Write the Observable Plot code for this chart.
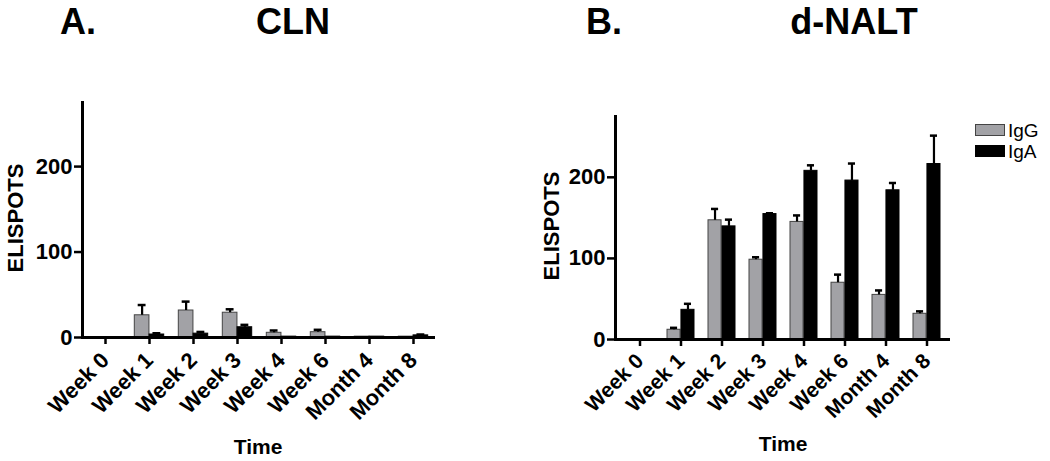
<!DOCTYPE html>
<html>
<head>
<meta charset="utf-8">
<script src="https://cdn.jsdelivr.net/npm/d3@7"></script>
<script src="https://cdn.jsdelivr.net/npm/@observablehq/plot@0.6"></script>
<style>
  html, body { margin: 0; padding: 0; background: #fff; }
  #wrap { position: relative; width: 1050px; height: 461px; font-family: "Liberation Sans", Arial, sans-serif; color: #000; overflow: hidden; }
  .panel { position: absolute; top: 0; }
  .t { position: absolute; font-weight: bold; white-space: nowrap; line-height: 1; }
  .big { font-size: 36px; }
  .lab { font-size: 21px; }
  .ylabf { font-size: 22px; }
  .ylab { transform: translate(-50%, -50%) rotate(-90deg); }
  .xlab { transform: translateX(-50%); }
  .ctr { transform: translateX(-50%); }
  .sw { position: absolute; width: 30px; height: 12px; box-sizing: border-box; }
  .lg { position: absolute; font-size: 19px; line-height: 1; }
</style>
</head>
<body>
<div id="wrap">
  <div class="t big" style="left:60px; top:4px;">A.</div>
  <div class="t big ctr" style="left:293px; top:4px;">CLN</div>
  <div class="t big" style="left:586px; top:4px;">B.</div>
  <div class="t big ctr" style="left:854px; top:4px;">d-NALT</div>

  <div class="t ylabf ylab" style="left:16px; top:218px;">ELISPOTS</div>
  <div class="t ylabf ylab" style="left:552px; top:226px;">ELISPOTS</div>
  <div class="t lab xlab" style="left:258px; top:436px;">Time</div>
  <div class="t lab xlab" style="left:783px; top:433px;">Time</div>

  <div class="sw" style="left:975px; top:124px; background:#a2a2a6; border:1.5px solid #444;"></div>
  <div class="lg" style="left:1008px; top:121px;">IgG</div>
  <div class="sw" style="left:975px; top:145px; background:#000; border:1.5px solid #000;"></div>
  <div class="lg" style="left:1008px; top:142px;">IgA</div>

  <div class="panel" id="pA" style="left:0px;"></div>
  <div class="panel" id="pB" style="left:525px;"></div>
</div>
<script>
// ---- Data ----
const times = ["Week 0", "Week 1", "Week 2", "Week 3", "Week 4", "Week 6", "Month 4", "Month 8"];
const series = ["IgG", "IgA"];
const yTicks = [0, 100, 200];

// Panel A: CLN
const clnIgG    = [0, 26, 31.6, 29, 5.5, 6.2, 1, 1];
const clnIgGErr = [0, 12, 10.4, 4, 2.7, 2.8, 0, 0];
const clnIgA    = [0, 3.5, 4.5, 12, 1, 1, 1, 2.5];
const clnIgAErr = [0, 1.5, 2, 2.8, 0, 0, 0, 1];

// Panel B: d-NALT
const naltIgG    = [0, 12, 147, 98.4, 145, 70, 55, 31.7];
const naltIgGErr = [0, 2.4, 14, 3, 8, 10, 5.5, 3];
const naltIgA    = [0, 36.6, 139.5, 154.7, 208, 196, 184, 216.4];
const naltIgAErr = [0, 7.4, 8.3, 1, 6.8, 21, 9, 35];

const colors = {IgG: "#a2a2a6", IgA: "#000000"};
const strokes = {IgG: "#444444", IgA: "#000000"};

function rows(igg, iggErr, iga, igaErr) {
  const out = [];
  times.forEach((t, i) => {
    out.push({time: t, series: "IgG", value: igg[i], err: iggErr[i]});
    out.push({time: t, series: "IgA", value: iga[i], err: igaErr[i]});
  });
  return out;
}

function panel(data, cfg) {
  const width = 525, height = 461;
  const bw = (width - cfg.ml - cfg.mr) / times.length;
  const half = bw / 2;
  const outer = cfg.outer;
  const barC = outer + (half - outer) / 2;
  const off = half - barC;
  const capHalf = 4;
  const marks = [];
  for (const s of series) {
    const d = data.filter(r => r.series === s);
    const left = s === "IgG";
    marks.push(Plot.barY(d, {
      x: "time", y: "value",
      fill: colors[s], stroke: strokes[s], strokeWidth: 1,
      insetLeft: left ? outer : half,
      insetRight: left ? half : outer
    }));
    const e = d.filter(r => r.err > 0);
    marks.push(Plot.ruleX(e, {
      x: "time", y1: "value", y2: r => r.value + r.err,
      dx: left ? -off : off, stroke: "#000", strokeWidth: 2.2
    }));
    const cc = left ? barC : bw - barC;
    marks.push(Plot.tickY(e, {
      x: "time", y: r => r.value + r.err,
      insetLeft: cc - capHalf, insetRight: bw - cc - capHalf,
      stroke: "#000", strokeWidth: 2.5
    }));
  }
  marks.push(Plot.ruleY([0], {stroke: "#000", strokeWidth: 3}));
  marks.push(Plot.frame({anchor: "left", stroke: "#000", strokeWidth: 3}));
  marks.push(Plot.axisY({ticks: yTicks, tickSize: 8, tickPadding: 2, strokeWidth: 2.5, fontSize: 22, label: null}));
  marks.push(Plot.axisX({tickSize: 7, tickPadding: cfg.tp, tickRotate: -45, strokeWidth: 2.5, fontSize: cfg.fs, label: null}));
  return Plot.plot({
    width, height,
    marginLeft: cfg.ml, marginRight: cfg.mr, marginTop: cfg.mt, marginBottom: cfg.mb,
    style: {fontFamily: "'Liberation Sans', Arial, sans-serif", fontWeight: "bold", fontSize: "21px", color: "#000", background: "transparent", overflow: "visible"},
    x: {type: "band", domain: times, padding: 0, axis: null},
    y: {domain: [0, 275], axis: null},
    marks
  });
}

document.getElementById("pA").appendChild(
  panel(rows(clnIgG, clnIgGErr, clnIgA, clnIgAErr), {ml: 82, mr: 90, mt: 102, mb: 124, outer: 7.3, fs: 22, tp: 12})
);
document.getElementById("pB").appendChild(
  panel(rows(naltIgG, naltIgGErr, naltIgA, naltIgAErr), {ml: 90, mr: 100, mt: 116, mb: 122, outer: 7, fs: 21, tp: 11})
);
</script>
</body>
</html>
